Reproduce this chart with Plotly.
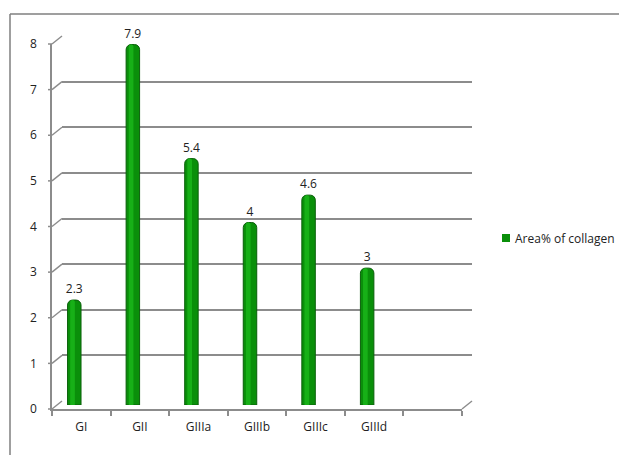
import plotly.graph_objects as go

# ---- data ----
categories = ["GI", "GII", "GIIIa", "GIIIb", "GIIIc", "GIIId"]
collagen_area = [2.3, 7.9, 5.4, 4, 4.6, 3]
value_labels = ["2.3", "7.9", "5.4", "4", "4.6", "3"]
series_name = "Area% of collagen"
y_ticks = [0, 1, 2, 3, 4, 5, 6, 7, 8]

# the page body adds an 8px margin; size the figure to fit the window
OFF = 8
W, H = 627 - OFF, 455 - OFF
slots = categories + [" "]  # empty trailing slot as in the original


def px(x):
    return (x - OFF) / W


def py(y):
    return 1 - (y - OFF) / H


# pixel geometry (window coordinates) of the pseudo-3D frame
FRONT_L, FRONT_R, FRONT_0, FRONT_TOP = 52, 462, 409, 44
DX, DY = 10, 8
Y_MAX = 8

GRID = "#8c8c8c"
TEXT = "#222222"
FONT = "Open Sans, Liberation Sans, sans-serif"
BAR = "#0a8f0a"

fig = go.Figure()

# bars (cylinder: dark body + lighter highlight)
fig.add_trace(go.Bar(
    x=categories, y=collagen_area, name=series_name,
    xaxis="x2", yaxis="y2",
    marker=dict(color=BAR, line=dict(color="#0a5f0a", width=1), cornerradius=5),
    width=0.23,
    text=value_labels, textposition="outside", cliponaxis=False,
    constraintext="none", textangle=0,
    textfont=dict(size=12, color=TEXT, family=FONT),
    hoverinfo="x+y", showlegend=False,
))
fig.add_trace(go.Bar(
    x=categories, y=collagen_area, showlegend=False,
    xaxis="x2", yaxis="y2",
    marker=dict(color="#17b017", line=dict(width=0), cornerradius=3),
    width=0.08, offset=-0.07,
    hoverinfo="skip",
))

# invisible traces to create the back wall and front axes subplots
fig.add_trace(go.Scatter(x=slots, y=[None] * len(slots), xaxis="x", yaxis="y",
                         showlegend=False, hoverinfo="skip"))
fig.add_trace(go.Scatter(x=slots, y=[None] * len(slots), xaxis="x3", yaxis="y3",
                         showlegend=False, hoverinfo="skip"))

common_x = dict(type="category", categoryorder="array", categoryarray=slots,
                range=[-0.5, len(slots) - 0.5], fixedrange=True, automargin=False)

fig.update_layout(
    width=W, height=H, autosize=False,
    margin=dict(l=0, r=0, t=0, b=0, autoexpand=False),
    paper_bgcolor="white", plot_bgcolor="rgba(0,0,0,0)",
    barmode="overlay",
    font=dict(family=FONT, color=TEXT, size=11),
    showlegend=False,
    # back wall (gridlines)
    xaxis=dict(**common_x, domain=[px(FRONT_L + DX), px(FRONT_R + DX)],
               anchor="y", visible=False),
    yaxis=dict(domain=[py(FRONT_0 - DY), py(FRONT_TOP - DY)], anchor="x",
               range=[0, Y_MAX], tickvals=y_ticks, showticklabels=False,
               showgrid=True, gridcolor=GRID, gridwidth=2, zeroline=False,
               showline=False, ticks="", automargin=False),
    # bars at mid depth
    xaxis2=dict(**common_x, domain=[px(FRONT_L - 7), px(FRONT_R - 7)],
                anchor="y2", visible=False),
    yaxis2=dict(domain=[py(FRONT_0 - 4), py(FRONT_TOP - 4)], anchor="x2",
                range=[0, Y_MAX], visible=False, automargin=False),
    # front axes
    xaxis3=dict(**common_x, domain=[px(FRONT_L), px(FRONT_R)], anchor="y3",
                showline=True, linecolor=GRID, linewidth=1.5,
                ticks="outside", tickson="boundaries", ticklen=5,
                tickcolor=GRID, tickwidth=1.5, showgrid=False,
                ticklabelstandoff=6,
                tickfont=dict(size=12, color=TEXT, family=FONT)),
    yaxis3=dict(domain=[py(FRONT_0), py(FRONT_TOP)], anchor="x3",
                range=[0, Y_MAX], tickvals=y_ticks, showgrid=False,
                zeroline=False, showline=True, linecolor=GRID, linewidth=1.5,
                ticks="", ticklabelstandoff=11, automargin=False,
                tickfont=dict(size=12, color=TEXT, family=FONT)),
)

# slanted depth connectors from front axis ticks to back wall gridlines
unit = (FRONT_0 - FRONT_TOP) / Y_MAX
shapes = []
for v in y_ticks:
    yf = FRONT_0 - v * unit
    shapes.append(dict(type="line", xref="paper", yref="paper",
                       x0=px(FRONT_L - 4), y0=py(yf), x1=px(FRONT_L), y1=py(yf),
                       line=dict(color=GRID, width=1.5)))
    shapes.append(dict(type="line", xref="paper", yref="paper",
                       x0=px(FRONT_L), y0=py(yf),
                       x1=px(FRONT_L + DX), y1=py(yf - DY),
                       line=dict(color=GRID, width=1.5)))
# right end of the floor
shapes.append(dict(type="line", xref="paper", yref="paper",
                   x0=px(FRONT_R), y0=py(FRONT_0), x1=px(FRONT_R + DX), y1=py(FRONT_0 - DY),
                   line=dict(color=GRID, width=1.5)))
# outer chart border (top and left)
shapes.append(dict(type="line", xref="paper", yref="paper",
                   x0=px(10), y0=py(14), x1=1, y1=py(14),
                   line=dict(color="#7f7f7f", width=1.5)))
shapes.append(dict(type="line", xref="paper", yref="paper",
                   x0=px(10), y0=py(14), x1=px(10), y1=0,
                   line=dict(color="#7f7f7f", width=1.5)))
# legend key
shapes.append(dict(type="rect", xref="paper", yref="paper",
                   x0=px(502), y0=py(242), x1=px(510), y1=py(234),
                   fillcolor=BAR, line=dict(width=0)))
fig.update_layout(shapes=shapes)

fig.add_annotation(xref="paper", yref="paper", x=px(513), y=py(238),
                   xanchor="left", yanchor="middle", showarrow=False,
                   text=series_name, font=dict(size=12, color=TEXT, family=FONT))

fig.write_html("out.html")
